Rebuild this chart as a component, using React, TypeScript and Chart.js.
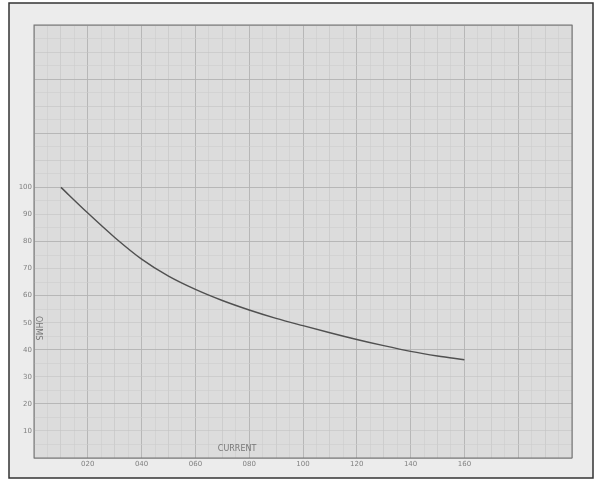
import React, { useEffect, useRef } from "react";
import { Chart, registerables } from "chart.js";

Chart.register(...registerables);

// Current (x) and resistance in ohms (y)
const currentValues = [10, 20, 30, 40, 50, 60, 70, 80, 90, 100, 110, 120, 130, 140, 150, 160];
const ohmValues = [100, 90.5, 81.5, 73.5, 67.2, 62.3, 58.2, 54.7, 51.6, 48.9, 46.3, 43.8, 41.5, 39.4, 37.7, 36.3];
const xTickLabels = ["020", "040", "060", "080", "100", "120", "140", "160"];
const yTickLabels = ["10", "20", "30", "40", "50", "60", "70", "80", "90", "100"];
const xAxisTitle = "CURRENT";
const yAxisTitle = "OHMS";

const paperPlugin = {
  id: "paper",
  beforeDraw(chart: any) {
    const { ctx, chartArea } = chart;
    ctx.save();
    ctx.fillStyle = "#ffffff";
    ctx.fillRect(0, 0, chart.width, chart.height);
    ctx.fillStyle = "#ececec";
    ctx.fillRect(9, 3, 584, 475);
    ctx.fillStyle = "#dcdcdc";
    ctx.fillRect(chartArea.left, chartArea.top, chartArea.right - chartArea.left, chartArea.bottom - chartArea.top);
    ctx.restore();
  },
  afterDraw(chart: any) {
    const { ctx, chartArea, scales } = chart;
    ctx.save();
    ctx.strokeStyle = "#707070";
    ctx.lineWidth = 1;
    ctx.strokeRect(chartArea.left, chartArea.top, chartArea.right - chartArea.left, chartArea.bottom - chartArea.top);
    ctx.strokeStyle = "#333";
    ctx.lineWidth = 1.5;
    ctx.strokeRect(9, 3, 584, 475);
    ctx.fillStyle = "#777";
    ctx.font = "8px 'DejaVu Sans'";
    ctx.textAlign = "center";
    ctx.textBaseline = "middle";
    ctx.fillText(xAxisTitle, scales.x.getPixelForValue(75.5), chartArea.bottom - 9);
    ctx.translate(chartArea.left + 4, scales.y.getPixelForValue(48));
    ctx.rotate(Math.PI / 2);
    ctx.fillText(yAxisTitle, 0, 0);
    ctx.restore();
  },
};

function gridColor(v: number) {
  if (v % 20 === 0) return "#b2b2b2";
  if (v % 10 === 0) return "#c2c2c2";
  return "#cdcdcd";
}

export default function App() {
  const ref = useRef<HTMLCanvasElement>(null);
  useEffect(() => {
    document.body.style.margin = "0";
    const chart = new Chart(ref.current!, {
      type: "line",
      data: {
        datasets: [
          {
            data: currentValues.map((x, i) => ({ x, y: ohmValues[i] })),
            borderColor: "#505050",
            borderWidth: 1.4,
            pointRadius: 0,
            cubicInterpolationMode: "monotone",
            fill: false,
          },
        ],
      },
      options: {
        animation: false,
        responsive: true,
        maintainAspectRatio: false,
        layout: { padding: { top: 25, right: 28, left: 0, bottom: 0 } },
        plugins: { legend: { display: false }, tooltip: { enabled: false } },
        scales: {
          x: {
            type: "linear",
            min: 0,
            max: 200,
            border: { display: false },
            afterFit: (s: any) => {
              s.height = 22;
            },
            grid: {
              drawTicks: false,
              color: (c: any) => gridColor(c.tick.value),
              lineWidth: (c: any) => (c.tick.value % 20 === 0 ? 0.9 : 0.6),
            },
            ticks: {
              stepSize: 5,
              autoSkip: false,
              maxRotation: 0,
              padding: 2,
              color: "#808080",
              font: { size: 7, family: "DejaVu Sans" },
              callback: (v: any) => {
                const idx = xTickLabels.indexOf(String(v).padStart(3, "0"));
                return Number(v) >= 20 && Number(v) <= 160 && idx >= 0 ? xTickLabels[idx] : "";
              },
            },
          },
          y: {
            type: "linear",
            min: 0,
            max: 160,
            border: { display: false },
            afterFit: (s: any) => {
              s.width = 34;
            },
            grid: {
              drawTicks: false,
              color: (c: any) => gridColor(c.tick.value),
              lineWidth: (c: any) => (c.tick.value % 20 === 0 ? 0.9 : 0.6),
            },
            ticks: {
              stepSize: 5,
              autoSkip: false,
              padding: 2,
              color: "#808080",
              font: { size: 7, family: "DejaVu Sans" },
              callback: (v: any) => {
                const s = String(v);
                return yTickLabels.includes(s) ? s : "";
              },
            },
          },
        },
      },
      plugins: [paperPlugin],
    });
    return () => chart.destroy();
  }, []);
  return (
    <div style={{ width: 600, height: 480, position: "relative" }}>
      <canvas ref={ref} />
    </div>
  );
}
